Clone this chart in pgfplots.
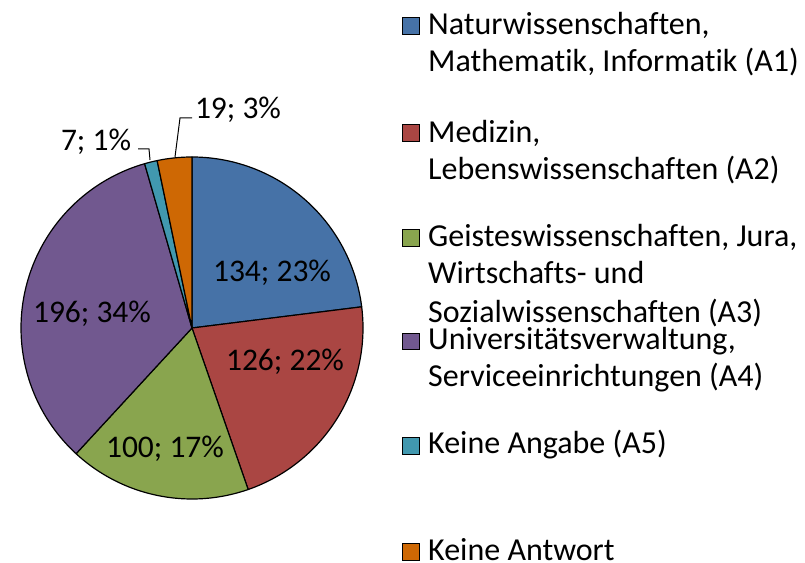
\documentclass[border=0pt]{standalone}
\usepackage{pgfplots}
\usepackage{pgfplotstable}
\pgfplotsset{compat=1.18}
\usepackage{fontspec}
\setmainfont{Carlito}[Ligatures=NoCommon]
\definecolor{cA}{RGB}{70,114,167}
\definecolor{cB}{RGB}{170,70,67}
\definecolor{cC}{RGB}{137,165,78}
\definecolor{cD}{RGB}{113,88,143}
\definecolor{cE}{RGB}{65,152,175}
\definecolor{cF}{RGB}{206,104,4}
\pgfplotstableread{
label value
A1 134
A2 126
A3 100
A4 196
A5 7
A6 19
}\piedata
\begin{document}
\begin{tikzpicture}
\pgfplotstablegetelem{0}{value}\of\piedata \let\vA\pgfplotsretval
\pgfplotstablegetelem{1}{value}\of\piedata \let\vB\pgfplotsretval
\pgfplotstablegetelem{2}{value}\of\piedata \let\vC\pgfplotsretval
\pgfplotstablegetelem{3}{value}\of\piedata \let\vD\pgfplotsretval
\pgfplotstablegetelem{4}{value}\of\piedata \let\vE\pgfplotsretval
\pgfplotstablegetelem{5}{value}\of\piedata \let\vF\pgfplotsretval
\pgfmathsetmacro\tot{\vA+\vB+\vC+\vD+\vE+\vF}
\pgfmathsetmacro\aA{90}
\pgfmathsetmacro\aB{\aA-360*(\vA/\tot)}
\pgfmathsetmacro\aC{\aB-360*(\vB/\tot)}
\pgfmathsetmacro\aD{\aC-360*(\vC/\tot)}
\pgfmathsetmacro\aE{\aD-360*(\vD/\tot)}
\pgfmathsetmacro\aF{\aE-360*(\vE/\tot)}
\pgfmathsetmacro\aG{\aF-360*(\vF/\tot)}
\useasboundingbox (0,0) rectangle (805bp,563bp);
\begin{axis}[at={(0,0)}, anchor=south west, scale only axis,
  width=805bp, height=563bp, xmin=0, xmax=805, ymin=0, ymax=563,
  hide axis, clip=false]
\pgfplotsset{every axis plot/.append style={draw=black, line width=1.2bp, line join=round, samples=90, variable=\t}}
\addplot[fill=cA, domain=\aB:\aA] ({192+171*cos(\t)},{235+171*sin(\t)}) -- (axis cs:192,235) -- cycle;
\addplot[fill=cB, domain=\aC:\aB] ({192+171*cos(\t)},{235+171*sin(\t)}) -- (axis cs:192,235) -- cycle;
\addplot[fill=cC, domain=\aD:\aC] ({192+171*cos(\t)},{235+171*sin(\t)}) -- (axis cs:192,235) -- cycle;
\addplot[fill=cD, domain=\aE:\aD] ({192+171*cos(\t)},{235+171*sin(\t)}) -- (axis cs:192,235) -- cycle;
\addplot[fill=cE, domain=\aF:\aE] ({192+171*cos(\t)},{235+171*sin(\t)}) -- (axis cs:192,235) -- cycle;
\addplot[fill=cF, domain=\aG:\aF] ({192+171*cos(\t)},{235+171*sin(\t)}) -- (axis cs:192,235) -- cycle;
% data labels
\begin{scope}[every node/.style={font=\fontsize{31.5bp}{38bp}\selectfont, inner sep=0pt}]
\node at (axis cs:272,290) {134; 23\%};
\node at (axis cs:285,201) {126; 22\%};
\node at (axis cs:165,114) {100; 17\%};
\node at (axis cs:92,249) {196; 34\%};
\node at (axis cs:96,421) {7; 1\%};
\node at (axis cs:238,453) {19; 3\%};
\end{scope}
\draw[black, line width=1bp] (axis cs:138,414) -- (axis cs:149,414) -- (axis cs:150,403);
\draw[black, line width=1bp] (axis cs:192,445) -- (axis cs:180,445) -- (axis cs:175,406);
% legend
\draw[fill=cA, draw=black, line width=1bp] (axis cs:402,528) rectangle (axis cs:419,545);
\draw[fill=cB, draw=black, line width=1bp] (axis cs:402,421) rectangle (axis cs:419,438);
\draw[fill=cC, draw=black, line width=1bp] (axis cs:402,316) rectangle (axis cs:419,333);
\draw[fill=cD, draw=black, line width=1bp] (axis cs:402,213) rectangle (axis cs:419,229);
\draw[fill=cE, draw=black, line width=1bp] (axis cs:402,108) rectangle (axis cs:419,125);
\draw[fill=cF, draw=black, line width=1bp] (axis cs:402,2) rectangle (axis cs:419,19);
\begin{scope}[every node/.style={font=\fontsize{32bp}{38bp}\selectfont, inner sep=0pt, anchor=base west}]
\node at (axis cs:428,528) {Naturwissenschaften,};
\node at (axis cs:428,491) {Mathematik, Informatik (A1)};
\node at (axis cs:428,420) {Medizin,};
\node at (axis cs:428,383) {Lebenswissenschaften (A2)};
\node at (axis cs:428,316) {Geisteswissenschaften, Jura,};
\node at (axis cs:428,279) {Wirtschafts- und};
\node at (axis cs:428,240) {Sozialwissenschaften (A3)};
\node at (axis cs:428,213) {Universitätsverwaltung,};
\node at (axis cs:428,176) {Serviceeinrichtungen (A4)};
\node at (axis cs:428,109) {Keine Angabe (A5)};
\node at (axis cs:428,3) {Keine Antwort};
\end{scope}
\end{axis}
\end{tikzpicture}
\end{document}
